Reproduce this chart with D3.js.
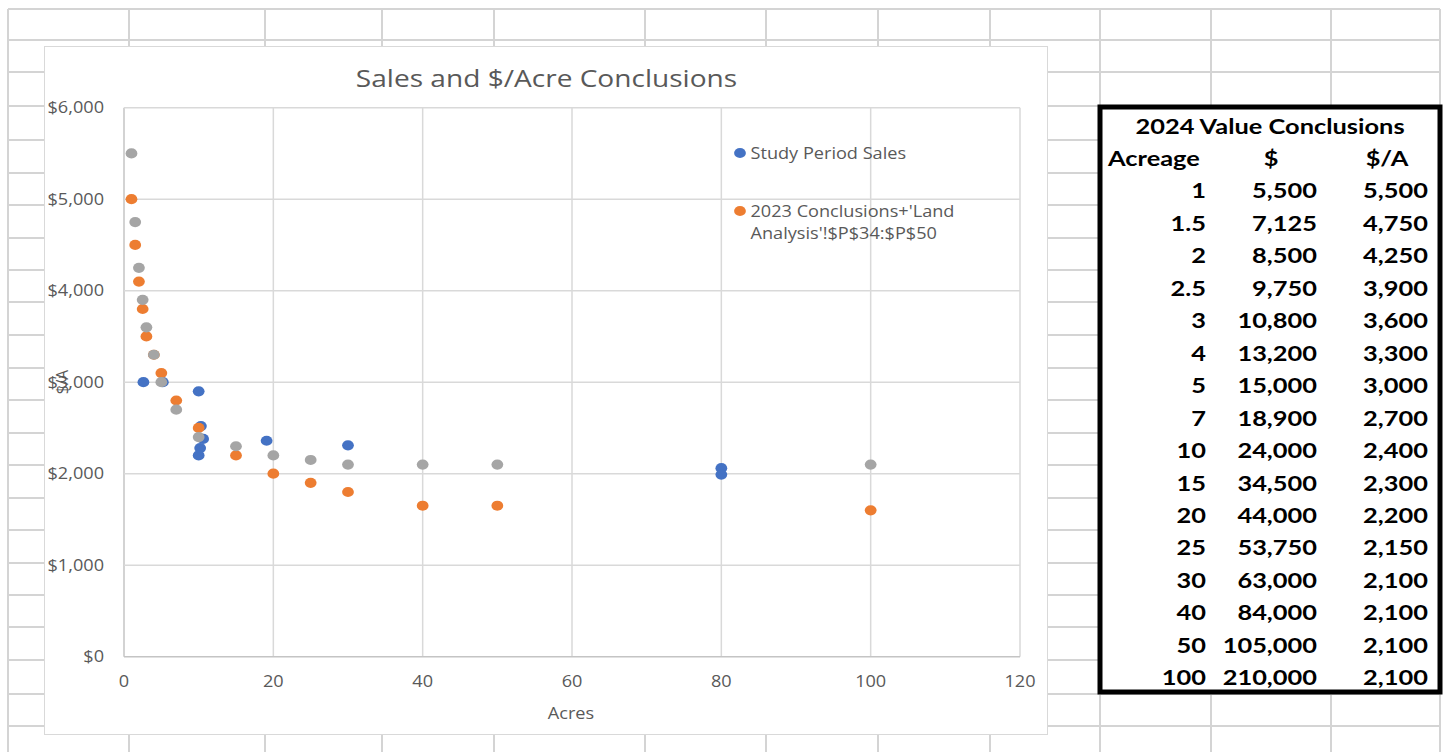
<!DOCTYPE html>
<html>
<head>
<meta charset="utf-8">
<script src="https://cdn.jsdelivr.net/npm/d3@7"></script>
<style>
  html, body { margin: 0; padding: 0; background: #fff; }
  svg { display: block; }
</style>
</head>
<body>
<svg id="sheet" width="1445" height="752"></svg>
<script>
// ---- 2024 value conclusions (table + grey series) ----
const acreage      = [1, 1.5, 2, 2.5, 3, 4, 5, 7, 10, 15, 20, 25, 30, 40, 50, 100];
const totalValue   = [5500, 7125, 8500, 9750, 10800, 13200, 15000, 18900, 24000, 34500, 44000, 53750, 63000, 84000, 105000, 210000];
const perAcre2024  = [5500, 4750, 4250, 3900, 3600, 3300, 3000, 2700, 2400, 2300, 2200, 2150, 2100, 2100, 2100, 2100];

// ---- 2023 conclusions, $/acre at the same acreages ----
const perAcre2023  = [5000, 4500, 4100, 3800, 3500, 3300, 3100, 2800, 2500, 2200, 2000, 1900, 1800, 1650, 1650, 1600];

// ---- study period sales ----
const salesAcres   = [2.6, 5.2, 10, 10.3, 10.6, 10.2, 10, 19.1, 30, 80, 80];
const salesPerAcre = [3000, 3000, 2900, 2520, 2380, 2280, 2200, 2360, 2310, 2060, 1990];

// ---- axis ticks ----
const xTicks = [0, 20, 40, 60, 80, 100, 120];
const yTicks = [0, 1000, 2000, 3000, 4000, 5000, 6000];

const seriesNames = ["Study Period Sales", "2023 Conclusions+'Land", "Analysis'!$P$34:$P$50"];
const tableTitle = "2024 Value Conclusions";
const tableHeads = ["Acreage", "$", "$/A"];

const COLORS = { sales: "#4472C4", c2023: "#ED7D31", c2024: "#A5A5A5" };
const TXT = "#595959";
const SX = 1.17;              // text is drawn slightly wide
const CHART_FONT = "'Open Sans', 'DejaVu Sans', sans-serif";
const TABLE_FONT = "Lato, 'Open Sans', sans-serif";

const svg = d3.select("#sheet");

// text helper: anchor point at (x, y), y is the visual middle of the glyphs
function label(parent, x, y, str, o = {}) {
  const g = parent.append("g")
    .attr("transform", `translate(${x},${y})${o.rotate ? ` rotate(${o.rotate})` : ""} scale(${o.sx || SX},1)`);
  g.append("text")
    .attr("text-anchor", o.anchor || "start")
    .attr("dy", "0.36em")
    .attr("font-family", o.font || CHART_FONT)
    .attr("font-size", o.size || 15.5)
    .attr("font-weight", o.weight || 400)
    .attr("fill", o.fill || TXT)
    .text(str);
  return g;
}

// ---- worksheet cell grid ----
const colEdges = [8, 129, 265, 382, 494, 645, 766, 878, 990, 1100, 1211, 1331, 1440];
const rowEdges = [9, 40, 72, 106, 140, 173, 205, 238, 270, 302, 335, 368, 400, 433, 465, 498, 530, 563, 595, 627, 660, 694, 726];
const cells = svg.append("g").attr("stroke", "#d4d4d4").attr("stroke-width", 2);
cells.selectAll("line.v").data(colEdges).join("line")
  .attr("x1", d => d).attr("x2", d => d).attr("y1", 9).attr("y2", 752);
cells.selectAll("line.h").data(rowEdges).join("line")
  .attr("x1", 8).attr("x2", 1440).attr("y1", d => d).attr("y2", d => d);

// ---- chart area ----
svg.append("rect")
  .attr("x", 44.5).attr("y", 46.5).attr("width", 1003).attr("height", 688)
  .attr("fill", "#fff").attr("stroke", "#d9d9d9").attr("stroke-width", 1);

const x = d3.scaleLinear().domain([0, 120]).range([124, 1020]);
const y = d3.scaleLinear().domain([0, 6000]).range([656.7, 107.7]);

const grid = svg.append("g").attr("stroke", "#d9d9d9").attr("stroke-width", 1.5);
grid.selectAll("line.gx").data(xTicks).join("line")
  .attr("x1", d => x(d)).attr("x2", d => x(d)).attr("y1", y(6000)).attr("y2", y(0))
  .attr("stroke", d => d === 0 ? "#c4c4c4" : null);
grid.selectAll("line.gy").data(yTicks).join("line")
  .attr("y1", d => y(d)).attr("y2", d => y(d)).attr("x1", x(0)).attr("x2", x(120))
  .attr("stroke", d => d === 0 ? "#c4c4c4" : null);

// tick labels
const fmt = d3.format(",");
yTicks.forEach(v => label(svg, 104, y(v), "$" + fmt(v), { anchor: "end" }));
xTicks.forEach(v => label(svg, x(v), 681.5, String(v), { anchor: "middle" }));

// titles
label(svg, 546.5, 78, "Sales and $/Acre Conclusions", { anchor: "middle", size: 24 });
label(svg, 571, 713, "Acres", { anchor: "middle", size: 15.5 });
label(svg, 62, 382, "$/A", { anchor: "middle", size: 15.5, rotate: -90, sx: 1 });

// ---- points ----
const RX = 5.9, RY = 5.1;
function dots(xs, ys, color) {
  svg.append("g").selectAll("ellipse").data(xs.map((d, i) => [d, ys[i]])).join("ellipse")
    .attr("cx", d => x(d[0])).attr("cy", d => y(d[1]))
    .attr("rx", RX).attr("ry", RY).attr("fill", color);
}
dots(salesAcres, salesPerAcre, COLORS.sales);
dots(acreage, perAcre2023, COLORS.c2023);
dots(acreage, perAcre2024, COLORS.c2024);

// ---- legend ----
const legend = svg.append("g");
legend.append("ellipse").attr("cx", 740).attr("cy", 153).attr("rx", RX).attr("ry", RY).attr("fill", COLORS.sales);
label(legend, 750.5, 153, seriesNames[0]);
legend.append("ellipse").attr("cx", 740).attr("cy", 211).attr("rx", RX).attr("ry", RY).attr("fill", COLORS.c2023);
label(legend, 750.5, 211, seriesNames[1]);
label(legend, 750.5, 233.3, seriesNames[2]);

// ---- conclusions table ----
svg.append("rect")
  .attr("x", 1100).attr("y", 107).attr("width", 340).attr("height", 585)
  .attr("fill", "#fff").attr("stroke", "#000").attr("stroke-width", 5);

const row = i => 126 + 32.45 * i;
const tOpt = { font: TABLE_FONT, size: 21, weight: 700, fill: "#000", sx: 1.21 };
label(svg, 1270, row(0), tableTitle, { ...tOpt, anchor: "middle" });
label(svg, 1108, row(1), tableHeads[0], tOpt);
label(svg, 1271, row(1), tableHeads[1], { ...tOpt, anchor: "middle" });
label(svg, 1387, row(1), tableHeads[2], { ...tOpt, anchor: "middle" });
acreage.forEach((a, i) => {
  label(svg, 1206, row(i + 2), String(a), { ...tOpt, anchor: "end" });
  label(svg, 1317, row(i + 2), fmt(totalValue[i]), { ...tOpt, anchor: "end" });
  label(svg, 1428, row(i + 2), fmt(perAcre2024[i]), { ...tOpt, anchor: "end" });
});
</script>
</body>
</html>
